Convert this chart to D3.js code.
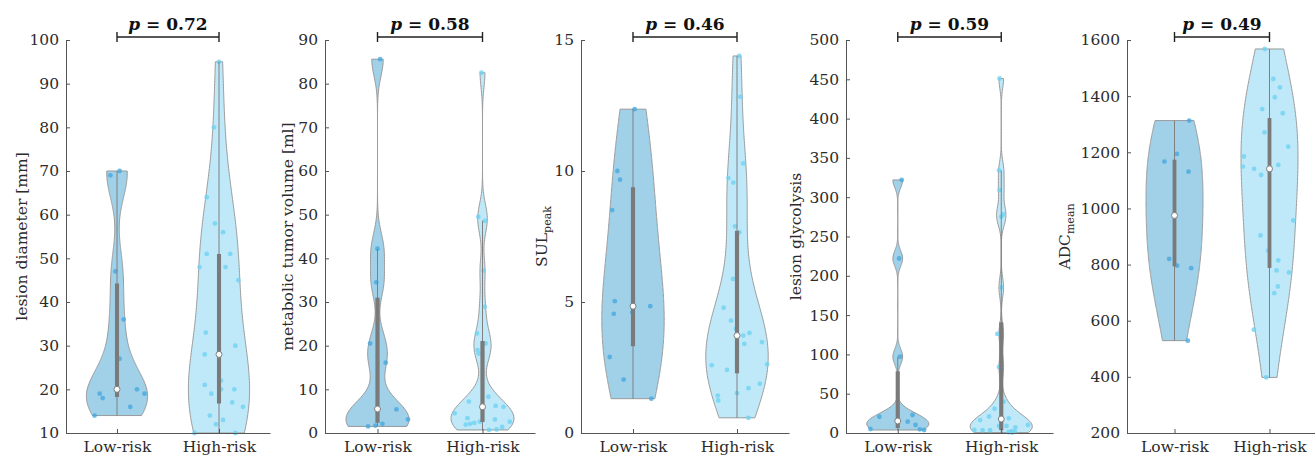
<!DOCTYPE html>
<html>
<head>
<meta charset="utf-8">
<script src="https://cdn.jsdelivr.net/npm/d3@7"></script>
<style>
  body { margin: 0; background: #fff; }
  text { font-family: "DejaVu Serif", serif; }
</style>
</head>
<body>
<script>
// groups on the x axis
const groups = ["Low-risk", "High-risk"];

// lesion diameter [mm]
const diamLow = [14, 16, 18, 19, 19, 20, 27, 36, 47, 69, 70];
const diamLowJit = [-0.22, 0.13, -0.14, -0.17, 0.27, 0.196, 0.026, 0.065, -0.016, -0.065, 0.026];
const diamHigh = [95, 80, 64, 58, 56, 51, 51, 48, 48, 45, 33, 30, 28, 22, 21, 20, 20, 19, 17, 16, 14, 13, 12, 10, 10];
const diamHighJit = [0, -0.05, -0.12, -0.04, 0.04, -0.12, 0.11, -0.19, 0.065, 0.19, -0.13, 0.16, -0.14, 0.02, -0.14, 0.02, 0.15, -0.075, 0.13, 0.235, -0.09, 0.04, -0.03, -0.24, 0.16];
const diamTicks = [10, 20, 30, 40, 50, 60, 70, 80, 90, 100];

// metabolic tumor volume [ml]
const mtvLow = [85.6, 42.2, 34.5, 20.5, 16.1, 5.5, 5.4, 3.1, 2.1, 1.7, 1.5];
const mtvLowJit = [0.025, 0, -0.012, -0.07, 0.078, 0, 0.18, 0.29, 0.047, -0.02, -0.09];
const mtvHigh = [82.5, 49.5, 48.6, 37.2, 28.9, 22.8, 20.5, 19.0, 18.2, 8.3, 7.2, 6.2, 6.0, 6.0, 4.5, 3.4, 3.1, 2.6, 2.6, 2.3, 2.1, 1.9, 1.4, 0.8, 0.7];
const mtvHighJit = [-0.01, -0.04, 0.022, 0.01, 0.022, -0.053, 0.03, -0.047, -0.037, 0.056, -0.13, 0.125, 0.2, 0, -0.265, -0.143, 0.118, 0.26, -0.025, -0.078, -0.118, -0.16, 0.187, 0.134, 0.062];
const mtvTicks = [0, 10, 20, 30, 40, 50, 60, 70, 80, 90];

// SUL peak
const sulLow = [12.36, 10.0, 9.67, 8.51, 5.03, 4.84, 4.6, 4.55, 2.9, 2.04, 1.31];
const sulLowJit = [0.016, -0.15, -0.125, -0.2, -0.175, 0.166, -0.006, -0.185, -0.224, -0.09, 0.176];
const sulHigh = [14.39, 12.83, 10.29, 9.73, 9.56, 7.89, 7.66, 5.88, 4.78, 4.29, 3.98, 3.82, 3.72, 3.70, 3.47, 3.4, 2.62, 2.59, 2.41, 1.88, 1.71, 1.52, 1.43, 1.24, 0.58];
const sulHighJit = [0.022, 0.032, 0.06, -0.083, -0.035, -0.02, 0.022, -0.038, -0.128, -0.058, -0.01, 0.12, 0.06, 0, 0.24, 0.07, 0.29, -0.243, -0.096, 0.22, 0.11, 0, -0.185, -0.18, 0.11];
const sulTicks = [0, 5, 10, 15];

// lesion glycolysis
const tlgLow = [322, 222, 97, 22.9, 20.7, 15.3, 14.4, 10.2, 5.1, 4.7, 3.8];
const tlgLowJit = [0.038, 0.013, 0.022, 0.143, -0.178, 0, 0.096, 0.172, -0.264, 0.213, 0.255];
const tlgHigh = [451, 334, 309, 278, 275, 185, 126, 84, 40, 31, 21, 18.7, 17.8, 16.5, 10.3, 8.9, 8.9, 7.2, 3.8, 3.5, 3.5, 2.3, 2.0, 1.0, 0.5];
const tlgHighJit = [-0.016, -0.022, -0.016, 0.019, 0, 0, -0.038, -0.022, 0.025, -0.064, -0.118, 0.073, 0, -0.204, 0.258, -0.022, 0.051, 0.137, -0.26, -0.18, -0.108, 0.1, 0.13, 0.07, 0.105];
const tlgTicks = [0, 50, 100, 150, 200, 250, 300, 350, 400, 450, 500];

// ADC mean
const adcLow = [1313, 1194, 1167, 1131, 975, 820, 796, 787, 529];
const adcLowJit = [0.155, 0.025, -0.106, 0.148, 0, -0.056, 0.028, 0.176, 0.14];
const adcHigh = [1568, 1461, 1431, 1396, 1354, 1339, 1271, 1220, 1185, 1155, 1149, 1141, 1119, 957, 904, 850, 815, 779, 772, 722, 698, 568, 398];
const adcHighJit = [-0.05, 0.04, 0.11, 0.056, -0.077, 0.14, -0.053, 0.197, -0.27, 0.092, -0.28, -0.162, -0.088, 0.25, -0.095, -0.014, 0.092, 0.074, 0.204, 0.088, 0.05, -0.165, -0.035];
const adcTicks = [200, 400, 600, 800, 1000, 1200, 1400, 1600];

const pValues = ["0.72", "0.58", "0.46", "0.59", "0.49"];

// panel table built from the arrays above
const panels = [
  { label: ["lesion diameter [mm]"], domain: [10, 100], ticks: diamTicks, sets: [[diamLow, diamLowJit], [diamHigh, diamHighJit]] },
  { label: ["metabolic tumor volume [ml]"], domain: [0, 90], ticks: mtvTicks, sets: [[mtvLow, mtvLowJit], [mtvHigh, mtvHighJit]] },
  { label: ["SUL", "peak"], domain: [0, 15], ticks: sulTicks, sets: [[sulLow, sulLowJit], [sulHigh, sulHighJit]] },
  { label: ["lesion glycolysis"], domain: [0, 500], ticks: tlgTicks, sets: [[tlgLow, tlgLowJit], [tlgHigh, tlgHighJit]] },
  { label: ["ADC", "mean"], domain: [200, 1600], ticks: adcTicks, sets: [[adcLow, adcLowJit], [adcHigh, adcHighJit]] }
];

// layout
var W = 1315, H = 459, plotTop = 40, plotBottom = 433;
var panelBox = [[66, 270], [325, 535], [581, 789], [846, 1053], [1127, 1317]];
var labelX = [27, 293, 547, 801, 1070];
var violinWidth = 0.3;
var fillCol = ["#a0d1e9", "#bfe9f9"];
var dotCol = ["#47a9de", "#70d2f3"];
var grey = "#808080";

var svg = d3.select("body").append("svg")
  .attr("width", W)
  .attr("height", H);

// matlab style quantile
function mquant(s, p) {
  var n = s.length, pos = n * p + 0.5;
  if (pos <= 1) return s[0];
  if (pos >= n) return s[n - 1];
  var i = Math.floor(pos);
  return s[i - 1] + (pos - i) * (s[i] - s[i - 1]);
}

// gaussian kde with ksdensity's default bandwidth, cut at min / max
function kde(data) {
  var n = data.length;
  var med = d3.median(data);
  var sig = d3.median(data.map(v => Math.abs(v - med))) / 0.6745;
  if (!(sig > 0)) sig = d3.max(data) - d3.min(data);
  var bw = sig * Math.pow(4 / (3 * n), 0.2);
  var lo = d3.min(data), hi = d3.max(data);
  var pts = d3.range(0, 241).map(i => lo + (hi - lo) * i / 240);
  var dens = pts.map(t => d3.sum(data, v => Math.exp(-0.5 * Math.pow((t - v) / bw, 2))));
  var mx = d3.max(dens);
  return pts.map((t, i) => ({ v: t, w: dens[i] / mx * violinWidth }));
}

panels.forEach(function(p, k) {
  var x = d3.scaleLinear().domain([0.5, 2.5]).range(panelBox[k]);
  var y = d3.scaleLinear().domain(p.domain).range([plotBottom, plotTop]);
  var g = svg.append("g");

  p.sets.forEach(function(set, gi) {
    var data = set[0], jit = set[1], pos = gi + 1;
    var dens = kde(data);
    var sorted = data.slice().sort(d3.ascending);
    var q1 = mquant(sorted, 0.25), q2 = mquant(sorted, 0.5), q3 = mquant(sorted, 0.75);
    var iqr = q3 - q1;
    var loW = d3.min(data.filter(v => v > q1 - 1.5 * iqr));
    var hiW = d3.max(data.filter(v => v < q3 + 1.5 * iqr));

    var area = d3.area()
      .x0(d => x(pos - d.w))
      .x1(d => x(pos + d.w))
      .y(d => y(d.v));

    g.append("path")
      .datum(dens)
      .attr("d", area)
      .attr("fill", fillCol[gi])
      .attr("stroke", "#9a9a9a")
      .attr("stroke-width", 1);

    g.selectAll(null)
      .data(data)
      .enter()
      .append("circle")
      .attr("cx", (d, i) => x(pos + jit[i]))
      .attr("cy", d => y(d))
      .attr("r", 2.4)
      .attr("fill", dotCol[gi])
      .attr("fill-opacity", 0.8);

    // whisker
    g.append("line")
      .attr("x1", x(pos)).attr("x2", x(pos))
      .attr("y1", y(loW)).attr("y2", y(hiW))
      .attr("stroke", grey)
      .attr("stroke-width", 1);

    // interquartile box
    g.append("rect")
      .attr("x", x(pos - 0.02))
      .attr("width", x(pos + 0.02) - x(pos - 0.02))
      .attr("y", y(q3))
      .attr("height", y(q1) - y(q3))
      .attr("fill", "#7a7a7a");

    // median
    g.append("circle")
      .attr("cx", x(pos))
      .attr("cy", y(q2))
      .attr("r", 3)
      .attr("fill", "#fff")
      .attr("stroke", grey)
      .attr("stroke-width", 1);
  });

  // axes
  var ya = g.append("g")
    .attr("transform", "translate(" + panelBox[k][0] + ",0)")
    .call(d3.axisLeft(y).tickValues(p.ticks).tickFormat(d3.format("d")).tickSize(-4).tickSizeOuter(0).tickPadding(7));
  var xa = g.append("g")
    .attr("transform", "translate(0," + plotBottom + ")")
    .call(d3.axisBottom(x).tickValues([1, 2]).tickFormat(d => groups[d - 1]).tickSize(-4).tickSizeOuter(0).tickPadding(8));

  [ya, xa].forEach(function(a) {
    a.attr("font-family", null).attr("font-size", null);
    a.select(".domain").attr("stroke", "#555");
    a.selectAll(".tick line").attr("stroke", "#555");
    a.selectAll(".tick text")
      .style("font-family", "DejaVu Serif")
      .style("font-size", "15.5px")
      .attr("fill", "#2b2b2b");
  });

  // y label
  var lab = g.append("text")
    .attr("transform", "translate(" + labelX[k] + "," + ((plotTop + plotBottom) / 2) + ") rotate(-90)")
    .attr("text-anchor", "middle")
    .style("font-size", "15.5px")
    .attr("fill", "#2b2b2b");
  lab.append("tspan").text(p.label[0]);
  if (p.label[1]) {
    lab.append("tspan")
      .attr("dy", "0.35em")
      .style("font-size", "11px")
      .text(p.label[1]);
  }

  // p-value bracket
  var by = 37;
  g.append("path")
    .attr("d", "M" + x(1) + "," + (by - 5) + "V" + (by + 5) + "M" + x(1) + "," + by + "H" + x(2) + "M" + x(2) + "," + (by - 5) + "V" + (by + 5))
    .attr("fill", "none")
    .attr("stroke", "#222")
    .attr("stroke-width", 1.4);

  var pt = g.append("text")
    .attr("x", x(1.5))
    .attr("y", 30)
    .attr("text-anchor", "middle")
    .style("font-size", "17px")
    .style("font-weight", "bold")
    .attr("fill", "#111");
  pt.append("tspan").style("font-style", "italic").text("p");
  pt.append("tspan").text(" = " + pValues[k]);
});
</script>
</body>
</html>
